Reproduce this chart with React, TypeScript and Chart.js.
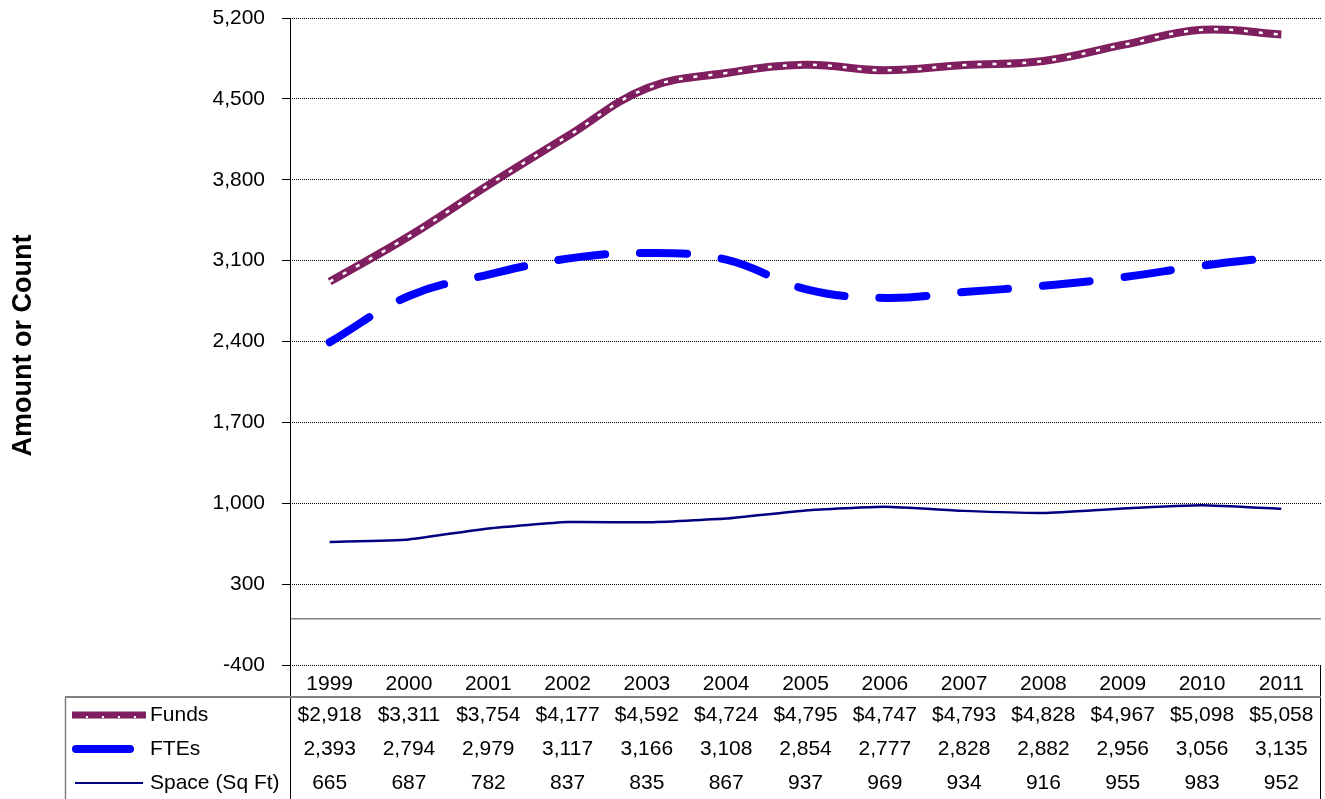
import React, { useEffect, useRef } from "react";
import { Chart, registerables } from "chart.js";

Chart.register(...registerables);

const years = ["1999", "2000", "2001", "2002", "2003", "2004", "2005", "2006", "2007", "2008", "2009", "2010", "2011"];
const funds = [2918, 3311, 3754, 4177, 4592, 4724, 4795, 4747, 4793, 4828, 4967, 5098, 5058];
const ftes = [2393, 2794, 2979, 3117, 3166, 3108, 2854, 2777, 2828, 2882, 2956, 3056, 3135];
const space = [665, 687, 782, 837, 835, 867, 937, 969, 934, 916, 955, 983, 952];
const yTicks = [-400, 300, 1000, 1700, 2400, 3100, 3800, 4500, 5200];
const seriesNames = ["Funds", "FTEs", "Space (Sq Ft)"];

const FUNDS_COLOR = "#7F1F5F";
const FTE_COLOR = "#0000FF";
const SPACE_COLOR = "#000080";
const FONT = "Liberation Sans, Arial, sans-serif";

const fmt = (v: number) => v.toLocaleString("en-US");

const tablePlugin = {
  id: "dataTable",
  beforeDatasetsDraw(chart: any) {
    const { ctx, chartArea, scales } = chart;
    const y0 = scales.y.getPixelForValue(0);
    ctx.save();
    ctx.strokeStyle = "#808080";
    ctx.lineWidth = 1.5;
    ctx.beginPath();
    ctx.moveTo(chartArea.left, y0);
    ctx.lineTo(chartArea.right, y0);
    ctx.stroke();
    ctx.strokeStyle = "#000";
    ctx.lineWidth = 1;
    ctx.beginPath();
    ctx.moveTo(chartArea.left + 0.5, chartArea.top);
    ctx.lineTo(chartArea.left + 0.5, chartArea.bottom);
    ctx.stroke();
    ctx.restore();
  },
  afterDraw(chart: any) {
    const { ctx, chartArea, scales } = chart;
    const x = scales.x;
    const left = chartArea.left;
    const right = chartArea.right;
    const bottom = chartArea.bottom;
    const H = chart.height;
    const tableLeft = 65;
    const headerBottom = bottom + 32;
    const rowYs = [bottom + 50, bottom + 84, bottom + 118];

    ctx.save();
    ctx.strokeStyle = "#000";
    ctx.lineWidth = 1;
    ctx.beginPath();
    ctx.moveTo(left + 0.5, bottom);
    ctx.lineTo(left + 0.5, H);
    ctx.stroke();
    ctx.beginPath();
    ctx.moveTo(right - 0.5, bottom);
    ctx.lineTo(right - 0.5, H);
    ctx.stroke();
    ctx.strokeStyle = "#808080";
    ctx.lineWidth = 2;
    ctx.beginPath();
    ctx.moveTo(tableLeft, headerBottom);
    ctx.lineTo(right, headerBottom);
    ctx.stroke();
    ctx.lineWidth = 1.5;
    ctx.beginPath();
    ctx.moveTo(tableLeft + 0.5, headerBottom);
    ctx.lineTo(tableLeft + 0.5, H);
    ctx.stroke();

    ctx.fillStyle = "#000";
    ctx.font = `21px ${FONT}`;
    ctx.textAlign = "center";
    ctx.textBaseline = "middle";
    years.forEach((yr, i) => {
      const cx = x.getPixelForValue(i);
      ctx.fillText(yr, cx, bottom + 19);
      ctx.fillText("$" + fmt(funds[i]), cx, rowYs[0]);
      ctx.fillText(fmt(ftes[i]), cx, rowYs[1]);
      ctx.fillText(fmt(space[i]), cx, rowYs[2]);
    });

    ctx.lineCap = "butt";
    ctx.strokeStyle = FUNDS_COLOR;
    ctx.lineWidth = 7;
    ctx.beginPath();
    ctx.moveTo(72, rowYs[0]);
    ctx.lineTo(146, rowYs[0]);
    ctx.stroke();
    ctx.strokeStyle = "#fff";
    ctx.lineWidth = 2;
    ctx.setLineDash([2, 14]);
    ctx.lineDashOffset = -14;
    ctx.beginPath();
    ctx.moveTo(72, rowYs[0] + 2);
    ctx.lineTo(146, rowYs[0] + 2);
    ctx.stroke();
    ctx.setLineDash([]);

    ctx.lineCap = "round";
    ctx.strokeStyle = FTE_COLOR;
    ctx.lineWidth = 8;
    ctx.beginPath();
    ctx.moveTo(76, rowYs[1]);
    ctx.lineTo(130, rowYs[1]);
    ctx.stroke();

    ctx.lineCap = "butt";
    ctx.strokeStyle = SPACE_COLOR;
    ctx.lineWidth = 2;
    ctx.beginPath();
    ctx.moveTo(75, rowYs[2]);
    ctx.lineTo(143, rowYs[2]);
    ctx.stroke();

    ctx.fillStyle = "#000";
    ctx.textAlign = "left";
    ctx.font = `21px ${FONT}`;
    seriesNames.forEach((n, i) => ctx.fillText(n, 150, rowYs[i]));

    ctx.save();
    ctx.translate(24, (chartArea.top + bottom) / 2 + 4);
    ctx.rotate(-Math.PI / 2);
    ctx.font = `bold 27px ${FONT}`;
    ctx.textAlign = "center";
    ctx.textBaseline = "middle";
    ctx.fillText("Amount or Count", 0, 0);
    ctx.restore();

    ctx.restore();
  },
};

export default function App() {
  const ref = useRef<HTMLCanvasElement>(null);
  useEffect(() => {
    if (!ref.current) return;
    const chart = new Chart(ref.current, {
      type: "line",
      data: {
        labels: years,
        datasets: [
          {
            label: "Funds-overlay",
            data: funds,
            borderColor: "#ffffff",
            borderWidth: 2.5,
            borderDash: [4, 11],
            tension: 0.4,
            pointRadius: 0,
            fill: false,
          },
          {
            label: "Funds",
            data: funds,
            borderColor: FUNDS_COLOR,
            borderWidth: 8,
            tension: 0.4,
            pointRadius: 0,
            fill: false,
          },
          {
            label: "FTEs",
            data: ftes,
            borderColor: FTE_COLOR,
            borderWidth: 8,
            borderDash: [47, 35],
            borderCapStyle: "round",
            tension: 0.4,
            pointRadius: 0,
            fill: false,
          },
          {
            label: "Space (Sq Ft)",
            data: space,
            borderColor: SPACE_COLOR,
            borderWidth: 2.5,
            tension: 0.15,
            pointRadius: 0,
            fill: false,
          },
        ],
      },
      options: {
        animation: false,
        responsive: false,
        maintainAspectRatio: false,
        layout: { padding: { top: 18, right: 4, bottom: 134, left: 0 } },
        plugins: { legend: { display: false }, tooltip: { enabled: false } },
        scales: {
          x: {
            type: "category",
            display: false,
            offset: true,
          },
          y: {
            min: -400,
            max: 5200,
            afterBuildTicks: (s: any) => {
              s.ticks = yTicks.map((v) => ({ value: v }));
            },
            afterFit: (s: any) => {
              s.width = 290;
              s.paddingTop = 0;
              s.paddingBottom = 0;
            },
            ticks: {
              color: "#000",
              font: { family: FONT, size: 21 },
              padding: 17,
              callback: (v: any) => fmt(Number(v)),
            },
            grid: {
              color: "#000",
              lineWidth: 1,
              tickLength: 8,
              tickColor: "#000",
              tickBorderDash: [],
            },
            border: { display: false, dash: [1, 1] },
          },
        },
      },
      plugins: [tablePlugin],
    } as any);
    return () => chart.destroy();
  }, []);
  return (
    <div style={{ position: "fixed", left: 0, top: 0, width: 1325, height: 799, background: "#fff" }}>
      <canvas ref={ref} width={1325} height={799} style={{ width: 1325, height: 799 }} />
    </div>
  );
}
